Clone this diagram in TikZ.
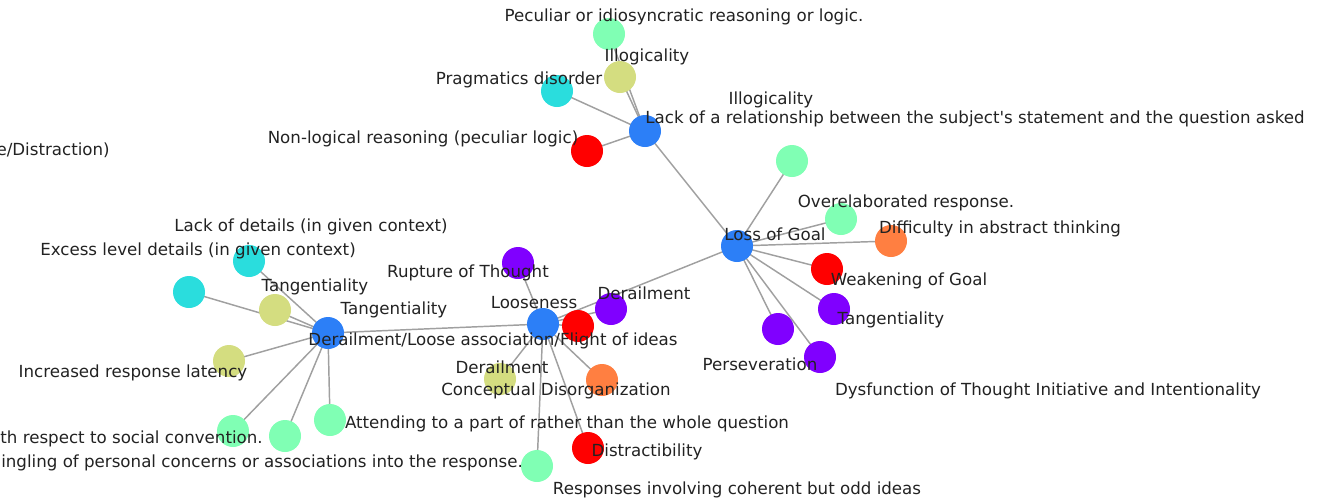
\documentclass[tikz,border=0pt]{standalone}
\usepackage{fontspec}
\setmainfont{DejaVu Sans}[Ligatures=TeXOff]
\begin{document}
\begin{tikzpicture}[x=0.75pt,y=-0.75pt,
  vtx/.style={circle,minimum size=24pt,inner sep=0pt,draw=none},
  edge/.style={draw=edgegray,line width=1.1pt},
  lbl/.style={text=lblgray,inner sep=0pt,font=\fontsize{12.5}{14}\selectfont}]
\definecolor{hubblue}{HTML}{2C7FF7}
\definecolor{leafcyan}{HTML}{2ADDDD}
\definecolor{leafmint}{HTML}{80FFB4}
\definecolor{leafolive}{HTML}{D4DD80}
\definecolor{leaforange}{HTML}{FF7F41}
\definecolor{leafred}{HTML}{FF0000}
\definecolor{leafpurple}{HTML}{8000FF}
\definecolor{edgegray}{HTML}{A0A0A0}
\definecolor{lblgray}{HTML}{222222}
\useasboundingbox (0,0) rectangle (1332,501);

% hubs
\coordinate (A) at (737,246);
\coordinate (B) at (645,131);
\coordinate (C) at (543,324);
\coordinate (D) at (328,333);
% leaves of B
\coordinate (b1) at (609,34);
\coordinate (b2) at (620,77);
\coordinate (b3) at (557,91);
\coordinate (b4) at (587,151);
% leaves of A
\coordinate (a1) at (792,161);
\coordinate (a2) at (841,219);
\coordinate (a3) at (891,241);
\coordinate (a4) at (827,269);
\coordinate (a5) at (834,309);
\coordinate (a6) at (778,329);
\coordinate (a7) at (820,357);
% leaves of C
\coordinate (c1) at (518,263);
\coordinate (c2) at (578,326);
\coordinate (c3) at (611,309);
\coordinate (c4) at (500,379);
\coordinate (c5) at (602,380);
\coordinate (c6) at (588,448);
\coordinate (c7) at (537,466);
% leaves of D
\coordinate (d1) at (249,261);
\coordinate (d2) at (189,292);
\coordinate (d3) at (275,310);
\coordinate (d4) at (229,361);
\coordinate (d5) at (233,431);
\coordinate (d6) at (285,436);
\coordinate (d7) at (330,420);

% edges
\foreach \u/\v in {A/B,A/C,C/D,
  B/b1,B/b2,B/b3,B/b4,
  A/a1,A/a2,A/a3,A/a4,A/a5,A/a6,A/a7,
  C/c1,C/c2,C/c3,C/c4,C/c5,C/c6,C/c7,
  D/d1,D/d2,D/d3,D/d4,D/d5,D/d6,D/d7}
  \draw[edge] (\u) -- (\v);

% vertices
\foreach \p/\c in {A/hubblue,B/hubblue,C/hubblue,D/hubblue,
  b1/leafmint,b2/leafolive,b3/leafcyan,b4/leafred,
  a1/leafmint,a2/leafmint,a3/leaforange,a4/leafred,a5/leafpurple,a6/leafpurple,a7/leafpurple,
  c1/leafpurple,c2/leafred,c3/leafpurple,c4/leafolive,c5/leaforange,c6/leafred,c7/leafmint,
  d1/leafcyan,d2/leafcyan,d3/leafolive,d4/leafolive,d5/leafmint,d6/leafmint,d7/leafmint}
  \node[vtx,fill=\c] (n\p) at (\p) {};

% labels
\node[lbl] (t1) at (684,17) {Peculiar or idiosyncratic reasoning or logic.};
\node[lbl] (t2) at (647,57) {Illogicality};
\node[lbl] (t3) at (519,80) {Pragmatics disorder};
\node[lbl] (t4) at (771,100) {Illogicality};
\node[lbl] (t5) at (975,119) {Lack of a relationship between the subject's statement and the question asked};
\node[lbl] (t6) at (423,139) {Non-logical reasoning (peculiar logic)};
\node[lbl,anchor=east] (t7) at (110,150) {e/Distraction)};
\node[lbl] (t8) at (311,227) {Lack of details (in given context)};
\node[lbl] (t9) at (198,251) {Excess level details (in given context)};
\node[lbl] (t10) at (906,203) {Overelaborated response.};
\node[lbl] (t11) at (1000,229) {Difficulty in abstract thinking};
\node[lbl] (t12) at (775,234) {Loss of Goal};
\node[lbl] (t13) at (315,287) {Tangentiality};
\node[lbl] (t14) at (468,273) {Rupture of Thought};
\node[lbl] (t15) at (909,281) {Weakening of Goal};
\node[lbl] (t16) at (644,293) {Derailment};
\node[lbl] (t17) at (534,303) {Looseness};
\node[lbl] (t18) at (394,310) {Tangentiality};
\node[lbl] (t19) at (891,320) {Tangentiality};
\node[lbl] (t20) at (493,341) {Derailment/Loose association/Flight of ideas};
\node[lbl] (t21) at (760,364) {Perseveration};
\node[lbl] (t22) at (502,367) {Derailment};
\node[lbl] (t23) at (133,373) {Increased response latency};
\node[lbl] (t24) at (556,391) {Conceptual Disorganization};
\node[lbl] (t25) at (1048,391) {Dysfunction of Thought Initiative and Intentionality};
\node[lbl] (t26) at (567,424) {Attending to a part of rather than the whole question};
\node[lbl,anchor=east] (t27) at (263,439) {th respect to social convention.};
\node[lbl,anchor=east] (t28) at (523,463) {ingling of personal concerns or associations into the response.};
\node[lbl] (t29) at (647,452) {Distractibility};
\node[lbl] (t30) at (737,490) {Responses involving coherent but odd ideas};
\end{tikzpicture}
\end{document}
